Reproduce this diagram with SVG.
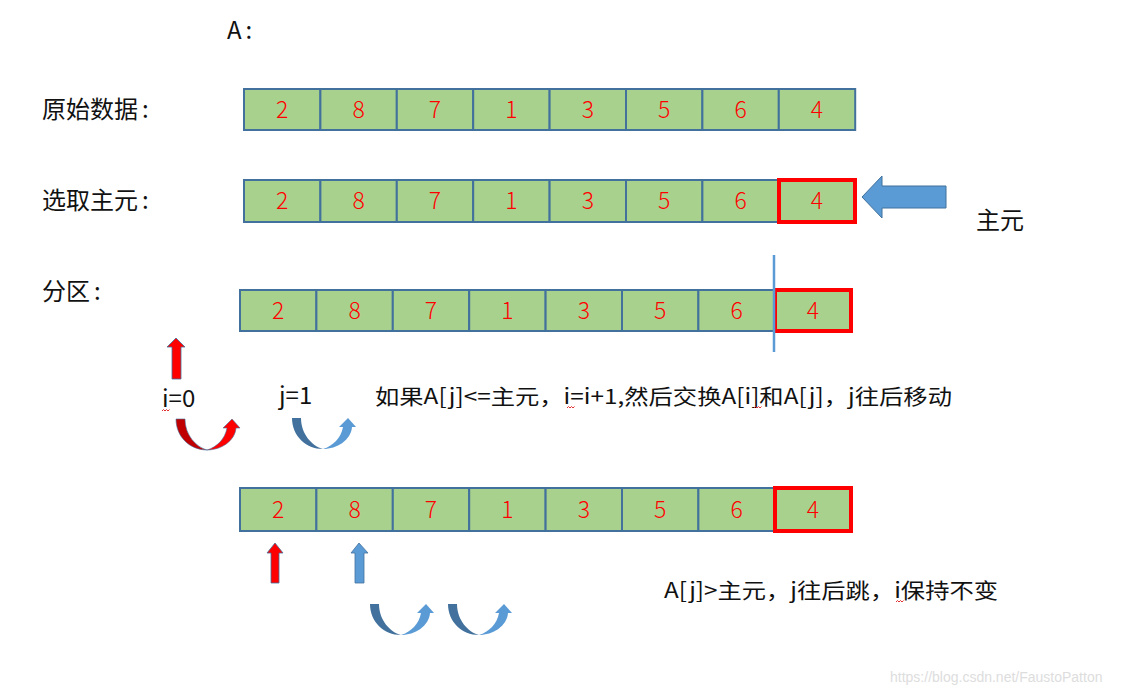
<svg xmlns="http://www.w3.org/2000/svg" xmlns:xlink="http://www.w3.org/1999/xlink" width="1137" height="692" viewBox="0 0 1137 692">
<style>
.cell{fill:#A9D18E;stroke:#41719C;stroke-width:2}
.piv{fill:none;stroke:#FF0000;stroke-width:4}
.num{font-family:"Noto Sans CJK SC","Liberation Sans",sans-serif;font-size:23px;fill:#FF0000;text-anchor:middle;font-weight:300}
.lbl{font-family:"Noto Sans CJK SC","Liberation Sans",sans-serif;font-size:24px;fill:#111}
.txt{font-family:"Noto Sans CJK SC","Liberation Sans",sans-serif;font-size:21px;fill:#111}
.sq{fill:none;stroke:#E03030;stroke-width:1}
</style>
<defs>
<g id="uturnBlue">
<path d="M0,0 L9,0 C9,16 20,28 31,31 C14,31 0,18 0,0 Z" fill="#41719C"/>
<path d="M31,31 C45,31 59,22 60,9 L64,9 L56,0 L47,9 L51,9 C49,20 41,28 31,31 Z" fill="#5B9BD5"/>
</g>
<g id="uturnRed">
<path d="M0,0 L9,0 C9,16 20,28 31,31 C14,31 0,18 0,0 Z" fill="#C00000" stroke="#41719C" stroke-width="0.6"/>
<path d="M31,31 C45,31 59,22 60,9 L64,9 L56,0 L47,9 L51,9 C49,20 41,28 31,31 Z" fill="#FF0000" stroke="#41719C" stroke-width="0.6"/>
</g>
</defs>
<rect width="1137" height="692" fill="#FFFFFF"/>

<g id="labels">
<text class="lbl" x="227" y="39">A<tspan dx="4">:</tspan></text>
<text class="lbl" x="42" y="118">原始数据<tspan dx="4">:</tspan></text>
<text class="lbl" x="42" y="209">选取主元<tspan dx="4">:</tspan></text>
<text class="lbl" x="42" y="300">分区<tspan dx="4">:</tspan></text>
<text class="lbl" x="976" y="229" font-size="23">主元</text>
<text class="lbl" x="162" y="407" font-size="23">i=0</text>
<text class="lbl" x="279" y="404" font-size="23">j=1</text>
<text class="txt" x="375" y="404" textLength="577" lengthAdjust="spacingAndGlyphs">如果A[j]&lt;=主元，i=i+1,然后交换A[i]和A[j]，j往后移动</text>
<text class="txt" x="664" y="598" textLength="334" lengthAdjust="spacingAndGlyphs">A[j]&gt;主元，j往后跳，i保持不变</text>
<text x="890" y="682" font-family="Liberation Sans, sans-serif" font-size="14" fill="#DDDDDD">https://blog.csdn.net/FaustoPatton</text>
<path class="sq" d="M162,411 l1.5,-1.5 l1.5,1.5 l1.5,-1.5 l1.5,1.5 l1.5,-1.5"/>
<path class="sq" d="M567,408 l1.5,-1.5 l1.5,1.5 l1.5,-1.5 l1.5,1.5 l1.5,-1.5"/>
<path class="sq" d="M754,408 l1.5,-1.5 l1.5,1.5 l1.5,-1.5 l1.5,1.5 l1.5,-1.5"/>
<path class="sq" d="M896,602 l1.5,-1.5 l1.5,1.5 l1.5,-1.5 l1.5,1.5 l1.5,-1.5"/>
</g>

<g id="row1">
<g id="r1c1"><rect class="cell" x="244" y="89" width="76.4" height="41"/><text class="num" x="282.2" y="118">2</text></g>
<g id="r1c2"><rect class="cell" x="320.4" y="89" width="76.4" height="41"/><text class="num" x="358.6" y="118">8</text></g>
<g id="r1c3"><rect class="cell" x="396.8" y="89" width="76.4" height="41"/><text class="num" x="435" y="118">7</text></g>
<g id="r1c4"><rect class="cell" x="473.2" y="89" width="76.4" height="41"/><text class="num" x="511.4" y="118">1</text></g>
<g id="r1c5"><rect class="cell" x="549.6" y="89" width="76.4" height="41"/><text class="num" x="587.8" y="118">3</text></g>
<g id="r1c6"><rect class="cell" x="626" y="89" width="76.4" height="41"/><text class="num" x="664.2" y="118">5</text></g>
<g id="r1c7"><rect class="cell" x="702.4" y="89" width="76.4" height="41"/><text class="num" x="740.6" y="118">6</text></g>
<g id="r1c8"><rect class="cell" x="778.8" y="89" width="76.4" height="41"/><text class="num" x="817" y="118">4</text></g>
</g>

<g id="row2">
<g id="r2c1"><rect class="cell" x="244" y="180" width="76.4" height="42"/><text class="num" x="282.2" y="209">2</text></g>
<g id="r2c2"><rect class="cell" x="320.4" y="180" width="76.4" height="42"/><text class="num" x="358.6" y="209">8</text></g>
<g id="r2c3"><rect class="cell" x="396.8" y="180" width="76.4" height="42"/><text class="num" x="435" y="209">7</text></g>
<g id="r2c4"><rect class="cell" x="473.2" y="180" width="76.4" height="42"/><text class="num" x="511.4" y="209">1</text></g>
<g id="r2c5"><rect class="cell" x="549.6" y="180" width="76.4" height="42"/><text class="num" x="587.8" y="209">3</text></g>
<g id="r2c6"><rect class="cell" x="626" y="180" width="76.4" height="42"/><text class="num" x="664.2" y="209">5</text></g>
<g id="r2c7"><rect class="cell" x="702.4" y="180" width="76.4" height="42"/><text class="num" x="740.6" y="209">6</text></g>
<g id="r2c8"><rect class="cell" x="778.8" y="180" width="76.4" height="42"/><rect class="piv" x="779" y="180" width="76" height="42"/><text class="num" x="817" y="209">4</text></g>
</g>

<g id="row3">
<g id="r3c1"><rect class="cell" x="240" y="290" width="76.4" height="41"/><text class="num" x="278.2" y="319">2</text></g>
<g id="r3c2"><rect class="cell" x="316.4" y="290" width="76.4" height="41"/><text class="num" x="354.6" y="319">8</text></g>
<g id="r3c3"><rect class="cell" x="392.8" y="290" width="76.4" height="41"/><text class="num" x="431" y="319">7</text></g>
<g id="r3c4"><rect class="cell" x="469.2" y="290" width="76.4" height="41"/><text class="num" x="507.4" y="319">1</text></g>
<g id="r3c5"><rect class="cell" x="545.6" y="290" width="76.4" height="41"/><text class="num" x="583.8" y="319">3</text></g>
<g id="r3c6"><rect class="cell" x="622" y="290" width="76.4" height="41"/><text class="num" x="660.2" y="319">5</text></g>
<g id="r3c7"><rect class="cell" x="698.4" y="290" width="76.4" height="41"/><text class="num" x="736.6" y="319">6</text></g>
<g id="r3c8"><rect class="cell" x="774.8" y="290" width="76.4" height="41"/><rect class="piv" x="775" y="290" width="76" height="41"/><text class="num" x="813" y="319">4</text></g>
</g>

<g id="row4">
<g id="r4c1"><rect class="cell" x="240" y="488" width="76.4" height="43"/><text class="num" x="278.2" y="518">2</text></g>
<g id="r4c2"><rect class="cell" x="316.4" y="488" width="76.4" height="43"/><text class="num" x="354.6" y="518">8</text></g>
<g id="r4c3"><rect class="cell" x="392.8" y="488" width="76.4" height="43"/><text class="num" x="431" y="518">7</text></g>
<g id="r4c4"><rect class="cell" x="469.2" y="488" width="76.4" height="43"/><text class="num" x="507.4" y="518">1</text></g>
<g id="r4c5"><rect class="cell" x="545.6" y="488" width="76.4" height="43"/><text class="num" x="583.8" y="518">3</text></g>
<g id="r4c6"><rect class="cell" x="622" y="488" width="76.4" height="43"/><text class="num" x="660.2" y="518">5</text></g>
<g id="r4c7"><rect class="cell" x="698.4" y="488" width="76.4" height="43"/><text class="num" x="736.6" y="518">6</text></g>
<g id="r4c8"><rect class="cell" x="774.8" y="488" width="76.4" height="43"/><rect class="piv" x="775" y="488" width="76" height="43"/><text class="num" x="813" y="518">4</text></g>
</g>

<g id="connectors">
<line x1="774" y1="255" x2="774" y2="352" stroke="#5B9BD5" stroke-width="2.5"/>
<path d="M862,197 L882,176 L882,186 L946,186 L946,208 L882,208 L882,218 Z" fill="#5B9BD5" stroke="#41719C" stroke-width="1"/>
<path d="M176,338 L185,347 L181,347 L181,379 L172,379 L172,347 L167,347 Z" fill="#FF0000" stroke="#41719C" stroke-width="0.8"/>
<path d="M275,543 L283,553 L279,553 L279,583 L271,583 L271,553 L267,553 Z" fill="#FF0000" stroke="#41719C" stroke-width="0.8"/>
<path d="M359,543 L368,553 L364,553 L364,583 L355,583 L355,553 L351,553 Z" fill="#5B9BD5" stroke="#41719C" stroke-width="0.8"/>
<use xlink:href="#uturnRed" x="176" y="419"/>
<use xlink:href="#uturnBlue" x="292" y="418"/>
<use xlink:href="#uturnBlue" x="370" y="604"/>
<use xlink:href="#uturnBlue" x="448" y="604"/>
</g>
</svg>
